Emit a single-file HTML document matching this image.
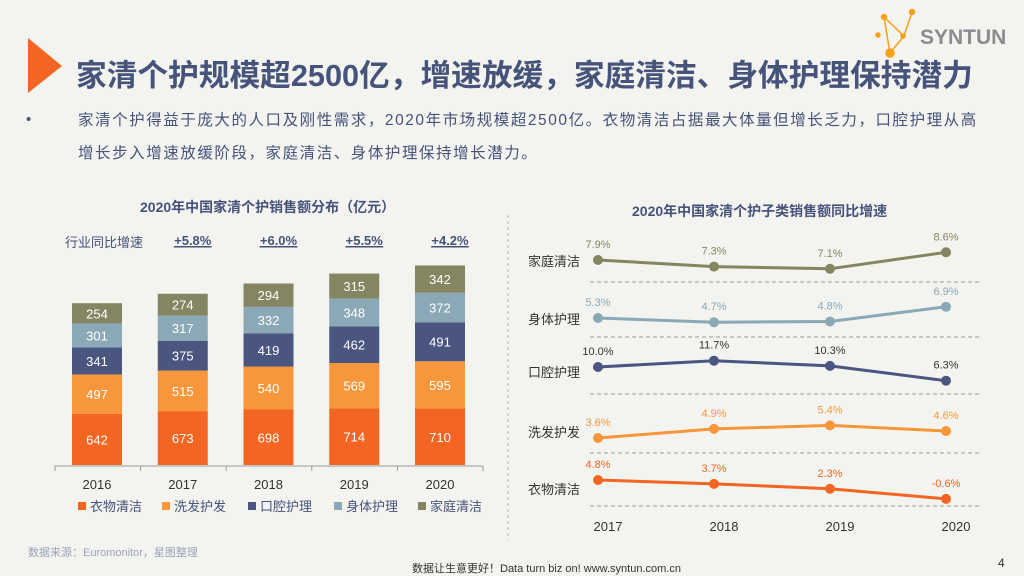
<!DOCTYPE html>
<html><head><meta charset="utf-8"><style>
body{margin:0;background:#f3f3ef;font-family:"Liberation Sans","Noto Sans CJK SC",sans-serif;}
#root{position:relative;width:1024px;height:576px;overflow:hidden;background:#f3f3ef;}
.t{position:absolute;white-space:nowrap;}
</style></head><body>
<div id="root">
<svg width="1024" height="576" style="position:absolute;left:0;top:0">
<polygon points="28,38 62,66 28,93" fill="#f26522"/>
<g stroke="#f7a11a" stroke-width="1.5" fill="#f7a11a">
<line x1="884" y1="17" x2="904" y2="36"/><line x1="904" y1="36" x2="912" y2="12"/><line x1="904" y1="36" x2="890" y2="53"/><line x1="884" y1="17" x2="890" y2="53"/>
<circle cx="884" cy="17" r="2.5"/><circle cx="912" cy="12" r="2.5"/><circle cx="878" cy="35" r="2"/><circle cx="903" cy="36" r="2"/><circle cx="890" cy="53" r="4"/>
</g>
<line x1="508" y1="215" x2="508" y2="540" stroke="#bbb" stroke-dasharray="3,3"/>
</svg>
<div class="t" style="left:920px;top:26px;font-size:21px;color:#8a8c90;font-weight:bold">SYNTUN</div>
<div class="t" style="left:76px;top:50px;font-size:30.7px;font-weight:bold;color:#46537a">家清个护规模超2500亿，增速放缓，家庭清洁、身体护理保持潜力</div>
<div class="t" style="left:26px;top:111px;font-size:15px;color:#46537a">•</div>
<div style="position:absolute;left:78px;top:104px;width:930px;font-size:15.5px;letter-spacing:1.55px;line-height:33px;color:#46537a">家清个护得益于庞大的人口及刚性需求，2020年市场规模超2500亿。衣物清洁占据最大体量但增长乏力，口腔护理从高<br>增长步入增速放缓阶段，家庭清洁、身体护理保持增长潜力。</div>
<div class="t" style="left:140px;top:197px;font-size:14px;font-weight:bold;color:#46537a">2020年中国家清个护销售额分布（亿元）</div>
<div class="t" style="left:632px;top:201px;font-size:14px;font-weight:bold;color:#46537a">2020年中国家清个护子类销售额同比增速</div>
<div class="t" style="left:65px;top:232px;font-size:13px;color:#46537a">行业同比增速</div>
<svg id="bar" width="1024" height="576" style="position:absolute;left:0;top:0"></svg>
<svg id="line" width="1024" height="576" style="position:absolute;left:0;top:0"></svg>
<div class="t" style="left:28px;top:544px;font-size:11px;color:#9aa3b8">数据来源：Euromonitor，星图整理</div>
<div class="t" style="left:412px;top:560px;font-size:11px;color:#333">数据让生意更好！Data turn biz on!  www.syntun.com.cn</div>
<div class="t" style="left:998px;top:556px;font-size:12px;color:#333">4</div>
</div>
<script>
const years=["2016","2017","2018","2019","2020"];
const seriesNames=["衣物清洁","洗发护发","口腔护理","身体护理","家庭清洁"];
const s1=[642,673,698,714,710];
const s2=[497,515,540,569,595];
const s3=[341,375,419,462,491];
const s4=[301,317,332,348,372];
const s5=[254,274,294,315,342];
const growth=["+5.8%","+6.0%","+5.5%","+4.2%"];
const colors=["#f26522","#f7963a","#4a5580","#8aa8b6","#868562"];
const NS="http://www.w3.org/2000/svg";
function mk(p,tag,a,txt){const e=document.createElementNS(NS,tag);for(const k in a)e.setAttribute(k,a[k]);if(txt!==undefined)e.textContent=txt;p.appendChild(e);return e;}
const bar=document.getElementById('bar');
const x0=97,dx=85.75,base=465,k=0.0795,bw=50;
const xB=i=>x0+i*dx, yB=v=>v*k;
const all=[s1,s2,s3,s4,s5];
mk(bar,'line',{x1:55,y1:466,x2:483,y2:466,stroke:'#999'});
for(let i=0;i<=5;i++){mk(bar,'line',{x1:55+i*85.6,y1:466,x2:55+i*85.6,y2:471,stroke:'#999'});}
years.forEach((y,i)=>{
 let cur=base;
 all.forEach((s,j)=>{
  const h=yB(s[i]);
  const r=mk(bar,'rect',{x:xB(i)-bw/2,y:cur-h,width:bw,height:h,fill:colors[j]});
  
  
  const t=mk(bar,'text',{x:xB(i),y:cur-h/2+5,'text-anchor':'middle','font-size':13,fill:'#fff'},s[i]);
  
  
  cur-=h;
 });
 const yl=mk(bar,'text',{x:xB(i),y:489,'text-anchor':'middle','font-size':13,fill:'#333'},y);
 
 
});
growth.forEach((g,i)=>{
 const t=mk(bar,'text',{x:xB(i+1)+10,y:245,'text-anchor':'middle','font-size':13,'font-weight':'bold',fill:'#46537a','text-decoration':'underline'},g);
 
 
 mk(bar,'line',{x1:xB(i+1)-9,y1:247,x2:xB(i+1)+29,y2:247,stroke:'#46537a'});
});
const lx=[78,162,248,334,418];
seriesNames.forEach((n,j)=>{
 const r=mk(bar,'rect',{x:lx[j],y:502,width:8,height:8,fill:colors[j]});
 
 
 const t=mk(bar,'text',{x:lx[j]+12,y:511,'font-size':13,fill:'#46537a'},n);
 
 
});
const lyears=["2017","2018","2019","2020"];
const rowNames=["家庭清洁","身体护理","口腔护理","洗发护发","衣物清洁"];
const gHome=[7.9,7.3,7.1,8.6];
const gBody=[5.3,4.7,4.8,6.9];
const gOral=[10.0,11.7,10.3,6.3];
const gHair=[3.6,4.9,5.4,4.6];
const gCloth=[4.8,3.7,2.3,-0.6];
const rows=[gHome,gBody,gOral,gHair,gCloth];
const rowColors=["#868562","#8aa8b6","#4a5580","#f7963a","#f26522"];
const rowRef=[[7.9,260,11],[5.3,318,7],[10.0,367,3.7],[3.6,438,7],[4.8,480,3.5]];
const seps=[282,337,394,453,506];
const lg=document.getElementById('line');
const xL=i=>598+i*116;
const yL=(r,v)=>rowRef[r][1]-(v-rowRef[r][0])*rowRef[r][2];
seps.forEach(y=>mk(lg,'line',{x1:590,y1:y,x2:980,y2:y,stroke:'#999','stroke-dasharray':'4,3'}));
rows.forEach((d,r)=>{
 const lab=mk(lg,'text',{x:528,y:[266,324,377,437,494][r],'font-size':13,fill:'#333'},rowNames[r]);
 
 
 const pl=mk(lg,'polyline',{points:d.map((v,i)=>xL(i)+','+yL(r,v)).join(' '),fill:'none',stroke:rowColors[r],'stroke-width':3});
 
 
 d.forEach((v,i)=>{
  const c=mk(lg,'circle',{cx:xL(i),cy:yL(r,v),r:5,fill:rowColors[r]});
  
  
  const t=mk(lg,'text',{x:xL(i),y:yL(r,v)-12,'text-anchor':'middle','font-size':11,fill:r==2?'#333':rowColors[r]},v.toFixed(1)+'%');
  
  
 });
});
lyears.forEach((y,i)=>{
 const t=mk(lg,'text',{x:xL(i)+10,y:531,'text-anchor':'middle','font-size':13,fill:'#333'},y);
 
 
});
</script>
</body></html>
